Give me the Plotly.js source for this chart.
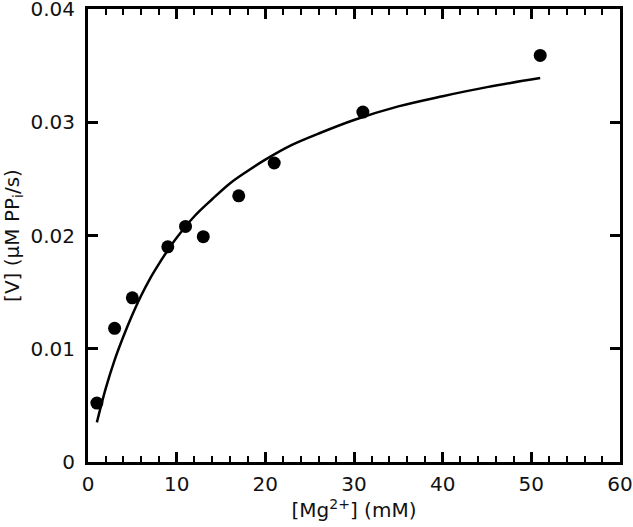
<!DOCTYPE html>
<html>
<head>
<meta charset="utf-8">
<script src="https://cdn.plot.ly/plotly-3.0.1.min.js"></script>
<style>
  html, body { margin: 0; padding: 0; background: #fff; }
  #chart { width: 633px; height: 527px; }
</style>
</head>
<body>
<div id="chart"></div>
<script>
// measured points
const mg = [1, 3, 5, 9, 11, 13, 17, 21, 31, 51]
const rate = [0.0052, 0.0118, 0.0145, 0.0190, 0.0208, 0.0199, 0.0235, 0.0264, 0.0309, 0.0359]

// fitted curve
const fitX = [1, 2, 3, 4, 5, 6, 7, 8, 9, 10, 12, 14, 16, 18, 20, 23, 26, 30, 35, 40, 45, 51]
const fitY = [0.0035, 0.0065, 0.0090, 0.0111, 0.0130, 0.0147, 0.0162, 0.0175, 0.0187, 0.0198,
  0.0217, 0.0232, 0.0246, 0.0257, 0.0267, 0.0280, 0.0290, 0.0302, 0.0314, 0.0323, 0.0331, 0.0339]

// tick labels
const yTickVals = [0, 0.01, 0.02, 0.03, 0.04]
const yTickText = ['0', '0.01', '0.02', '0.03', '0.04']

const font = 'DejaVu Sans, Verdana, sans-serif'

const points = {
  x: mg,
  y: rate,
  type: 'scatter',
  mode: 'markers',
  marker: {color: 'black', size: 13},
  cliponaxis: false
}

const fitted = {
  x: fitX,
  y: fitY,
  type: 'scatter',
  mode: 'lines',
  line: {color: 'black', width: 2.5, shape: 'spline'}
}

const axisCommon = {
  showgrid: false,
  zeroline: false,
  showline: true,
  linecolor: 'black',
  linewidth: 3,
  mirror: 'ticks',
  ticks: 'inside',
  tickcolor: 'black',
  tickwidth: 2.5,
  ticklen: 10,
  ticklabeloverflow: 'allow',
  tickfont: {family: font, size: 20, color: '#111'}
}

const layout = {
  width: 633,
  height: 527,
  margin: {l: 88, r: 13, t: 9, b: 65},
  paper_bgcolor: 'white',
  plot_bgcolor: 'white',
  showlegend: false,
  font: {family: font, color: '#111'},
  xaxis: Object.assign({}, axisCommon, {
    range: [0, 60],
    tick0: 0,
    dtick: 10,
    ticklabelstandoff: 2,
    minor: {dtick: 2, ticks: 'inside', ticklen: 6, tickwidth: 2, tickcolor: 'black'},
    title: {text: '[Mg<sup>2+</sup>] (mM)', font: {family: font, size: 20}, standoff: 4}
  }),
  yaxis: Object.assign({}, axisCommon, {
    range: [0, 0.04],
    tickmode: 'array',
    tickvals: yTickVals,
    ticktext: yTickText,
    ticklabelstandoff: 6,
    title: {text: '[V] (μM PP<sub>i</sub>/s)', font: {family: font, size: 20}, standoff: 6}
  })
}

Plotly.newPlot('chart', [fitted, points], layout, {displayModeBar: false})
</script>
</body>
</html>
